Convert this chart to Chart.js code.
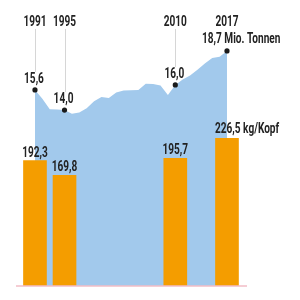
<!DOCTYPE html>
<html>
<head>
<meta charset="utf-8">
<script src="https://cdn.jsdelivr.net/npm/chart.js@4/dist/chart.umd.min.js"></script>
<style>
  body { margin: 0; background: #fff; }
  canvas { display: block; }
</style>
</head>
<body>
<canvas id="myChart" width="300" height="300"></canvas>
<script>
// Mio. Tonnen, 1991-2017
const years = [1991, 1992, 1993, 1994, 1995, 1996, 1997, 1998, 1999, 2000, 2001, 2002, 2003, 2004,
  2005, 2006, 2007, 2008, 2009, 2010, 2011, 2012, 2013, 2014, 2015, 2016, 2017];
const tonnen = [15.6, 14.9, 14.06, 14.05, 14.0, 13.7, 13.8, 14.15, 14.7, 15.04, 14.96, 15.4, 15.55, 15.57,
  15.6, 16.1, 16.07, 15.95, 15.2, 16.0, 16.43, 16.75, 17.2, 17.7, 18.15, 18.25, 18.7];

// kg pro Kopf, nur fuer einzelne Jahre
const barYears = [1991, 1995, 2010, 2017];
const kgKopf = [192.3, 169.8, 195.7, 226.5];

const tonnenLabels = ["15,6", "14,0", "16,0", "18,7 Mio. Tonnen"];
const kgLabels = ["192,3", "169,8", "195,7", "226,5 kg/Kopf"];

const FONT = "bold 14px Roboto";
const SX = 0.72; // narrow the font

function drawText(ctx, text, x, y, align) {
  ctx.save();
  ctx.font = FONT;
  ctx.fillStyle = "#222";
  ctx.textBaseline = "alphabetic";
  const w = ctx.measureText(text).width * SX;
  let left = x;
  if (align === "center") left = x - w / 2;
  else if (align === "right") left = x - w;
  ctx.translate(left, y);
  ctx.scale(SX, 1);
  ctx.textAlign = "left";
  ctx.fillText(text, 0, 0);
  ctx.restore();
}

const labelPlugin = {
  id: "labels",
  afterDatasetsDraw(chart) {
    const ctx = chart.ctx;
    const xs = chart.scales.x;
    const yT = chart.scales.y;
    const yK = chart.scales.y2;
    const area = chart.chartArea;

    // baseline
    ctx.save();
    ctx.strokeStyle = "#f2bcc6";
    ctx.lineWidth = 1.5;
    ctx.beginPath();
    ctx.moveTo(area.left, yT.getPixelForValue(0));
    ctx.lineTo(area.right, yT.getPixelForValue(0));
    ctx.stroke();
    ctx.restore();

    barYears.forEach((yr, i) => {
      const x = xs.getPixelForValue(yr);
      const dotY = yT.getPixelForValue(tonnen[years.indexOf(yr)]);
      const last = i === barYears.length - 1;

      // leader line
      if (!last) {
        ctx.save();
        ctx.strokeStyle = "#d6d6d6";
        ctx.lineWidth = 1;
        ctx.beginPath();
        ctx.moveTo(Math.round(x) + 0.5, 29);
        ctx.lineTo(Math.round(x) + 0.5, dotY - 18);
        ctx.stroke();
        ctx.restore();
      }

      drawText(ctx, String(yr), x, 26, "center");
      if (last) drawText(ctx, tonnenLabels[i], x - 25, dotY - 8, "left");
      else drawText(ctx, tonnenLabels[i], x - 1, dotY - 7, "center");

      const barTop = yK.getPixelForValue(kgKopf[i]);
      if (last) drawText(ctx, kgLabels[i], x - 12, barTop - 5, "left");
      else drawText(ctx, kgLabels[i], x, barTop - 4, "center");
    });
  }
};

new Chart(document.getElementById("myChart"), {
  data: {
    datasets: [
      {
        type: "bar",
        order: 1,
        data: barYears.map((yr, i) => ({ x: yr, y: kgKopf[i] })),
        yAxisID: "y2",
        backgroundColor: "#f49d00",
        barThickness: 23,
        borderWidth: 0
      },
      {
        type: "line",
        order: 2,
        data: years.map((yr, i) => ({ x: yr, y: tonnen[i] })),
        yAxisID: "y",
        fill: "origin",
        backgroundColor: "#a2c9ec",
        borderWidth: 0,
        tension: 0,
        pointRadius: ctx => barYears.includes(years[ctx.dataIndex]) ? 2.6 : 0,
        pointBackgroundColor: "#1a1a1a",
        pointBorderWidth: 0
      }
    ]
  },
  options: {
    responsive: false,
    animation: false,
    layout: { padding: { left: 16, right: 53, top: 10, bottom: 14 } },
    plugins: { legend: { display: false }, tooltip: { enabled: false } },
    scales: {
      x: { type: "linear", offset: false, min: 1988.43, max: 2019.71, display: false },
      y: { min: 0, max: 21.96, display: false },
      y2: { min: 0, max: 423.4, display: false }
    }
  },
  plugins: [labelPlugin]
});
</script>
</body>
</html>
